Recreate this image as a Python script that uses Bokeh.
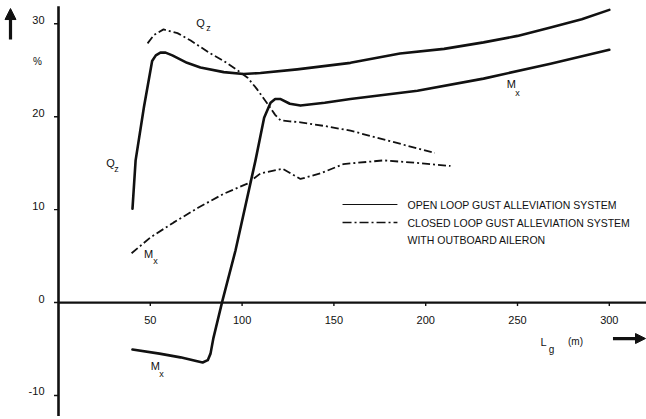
from bokeh.plotting import figure
from bokeh.models import ColumnDataSource, Arrow, NormalHead
from bokeh.core.properties import value
from bokeh.embed import file_html
from bokeh.resources import INLINE

# Gust scale length L_g (m) against response reduction (%)
open_qz_lg = [40.3, 42.0, 46.5, 51.0, 53.0, 55.5, 58.3, 62.0, 70.0, 77.3, 90.0, 100.8,
              110.0, 130.0, 159.0, 186.0, 210.0, 231.5, 250.0, 268.0, 285.0, 300.0]
open_qz = [10.1, 15.3, 21.0, 26.0, 26.6, 26.9, 26.9, 26.6, 25.8, 25.3, 24.8, 24.6,
           24.7, 25.1, 25.8, 26.8, 27.3, 28.0, 28.7, 29.6, 30.5, 31.5]

open_mx_lg = [40.3, 55.0, 66.4, 75.0, 78.5, 81.3, 82.8, 84.4, 89.3, 96.4, 107.3, 112.0,
              115.5, 118.0, 121.0, 126.0, 131.8, 145.0, 159.0, 195.5, 231.5, 268.0, 300.0]
open_mx = [-5.06, -5.5, -5.9, -6.3, -6.45, -6.2, -5.5, -3.8, 0.2, 5.6, 15.3, 19.9,
           21.5, 21.9, 21.9, 21.4, 21.2, 21.5, 21.9, 22.8, 24.1, 25.7, 27.2]

closed_qz_lg = [48.5, 52.0, 57.2, 64.8, 72.0, 82.8, 90.0, 97.5, 103.0, 108.0, 113.8,
                118.0, 121.0, 126.0, 131.8, 145.0, 159.0, 180.0, 205.0]
closed_qz = [27.9, 28.8, 29.4, 29.0, 28.2, 26.8, 26.0, 25.0, 24.2, 23.0, 21.4,
             20.2, 19.6, 19.5, 19.4, 19.0, 18.5, 17.4, 16.1]

closed_mx_lg = [39.8, 50.0, 62.6, 76.0, 89.9, 102.9, 110.0, 122.0, 131.8, 142.7,
                155.2, 177.0, 197.2, 213.5]
closed_mx = [5.3, 7.0, 8.6, 10.2, 11.7, 12.8, 13.9, 14.4, 13.3, 13.9,
             14.9, 15.3, 15.0, 14.7]

x_ticks = [50, 100, 150, 200, 250, 300]
x_tick_labels = ["50", "100", "150", "200", "250", "300"]
y_ticks = [30, 20, 10, 0, -10]
y_tick_labels = ["30", "20", "10", "0", "-10"]

legend_labels = ["OPEN LOOP GUST ALLEVIATION SYSTEM",
                 "CLOSED LOOP GUST ALLEVIATION SYSTEM",
                 "WITH OUTBOARD AILERON"]

# ---- canvas and scales -------------------------------------------------
W, H = 646, 419
X_MIN, X_MAX = -31.59, 320.26
Y_MIN, Y_MAX = -12.59, 32.51
PX_X = W / (X_MAX - X_MIN)
PX_Y = H / (Y_MAX - Y_MIN)


def dx(px):
    return px / PX_X


def dy(px):
    return px / PX_Y


INK = "#111111"
FONT = value("Liberation Sans")

p = figure(width=W, height=H, x_range=(X_MIN, X_MAX), y_range=(Y_MIN, Y_MAX),
           x_axis_location=None, y_axis_location=None,
           toolbar_location=None, output_backend="svg", min_border=0)
p.xgrid.visible = False
p.ygrid.visible = False
p.outline_line_color = None
p.background_fill_color = "white"
p.border_fill_color = "white"

# ---- axes drawn through the origin --------------------------------------
Y_AXIS_TOP, Y_AXIS_BOTTOM = 31.9, -12.2
X_AXIS_END = 320.0
p.line([0, 0], [Y_AXIS_BOTTOM, Y_AXIS_TOP], line_color=INK, line_width=2.6)
p.line([0, X_AXIS_END], [0, 0], line_color=INK, line_width=2.2)

# tick marks
p.segment(x0=[-dx(4.5)] * len(y_ticks), y0=y_ticks, x1=[0] * len(y_ticks), y1=y_ticks,
          line_color=INK, line_width=1.4)
p.segment(x0=x_ticks, y0=[0] * len(x_ticks), x1=x_ticks, y1=[-dy(3.5)] * len(x_ticks),
          line_color=INK, line_width=1.4)

# tick labels
p.text(x=[-dx(14)] * len(y_ticks), y=[t + dy(4) for t in y_ticks], text=y_tick_labels,
       text_align="right", text_baseline="middle", text_font=FONT,
       text_font_size="11px", text_color=INK)
p.text(x=x_ticks, y=[-dy(17)] * len(x_ticks), text=x_tick_labels,
       text_align="center", text_baseline="middle", text_font=FONT,
       text_font_size="11px", text_color=INK)

# direction arrows and units
p.add_layout(Arrow(end=NormalHead(size=11, fill_color=INK, line_color=INK),
                   x_start=-dx(48), y_start=dy(263), x_end=-dx(48), y_end=dy(294),
                   line_color=INK, line_width=3.2))
p.add_layout(Arrow(end=NormalHead(size=10, fill_color=INK, line_color=INK),
                   x_start=302.0, y_start=-dy(36), x_end=X_MAX - dx(1), y_end=-dy(36),
                   line_color=INK, line_width=3.2))
p.text(x=[-dx(21)], y=[dy(241)], text=["%"], text_align="center",
       text_baseline="middle", text_font=FONT, text_font_size="10px", text_color=INK)

# axis title L_g (m)
p.text(x=[264.2], y=[-dy(39)], text=["L"], text_align="center", text_baseline="middle",
       text_font=FONT, text_font_size="11px", text_color=INK)
p.text(x=[268.6], y=[-dy(47)], text=["g"], text_align="center", text_baseline="middle",
       text_font=FONT, text_font_size="10px", text_color=INK)
p.text(x=[281.6], y=[-dy(39)], text=["(m)"], text_align="center", text_baseline="middle",
       text_font=FONT, text_font_size="10px", text_color=INK)

# ---- response curves ------------------------------------------------------
DASHDOT = "8 3 2 3"
p.line(open_qz_lg, open_qz, line_color=INK, line_width=2.6, line_join="round", line_cap="round")
p.line(open_mx_lg, open_mx, line_color=INK, line_width=2.6, line_join="round", line_cap="round")
p.line(closed_qz_lg, closed_qz, line_color=INK, line_width=1.8, line_dash=DASHDOT, line_join="round")
p.line(closed_mx_lg, closed_mx, line_color=INK, line_width=1.8, line_dash=DASHDOT, line_join="round")

# curve names with subscripts
names = ColumnDataSource(dict(
    x=[77.3, 28.3, 49.0, 52.8, 246.7],
    y=[30.1, 15.0, 5.27, -6.78, 23.5],
    t=["Q", "Q", "M", "M", "M"],
))
subs = ColumnDataSource(dict(
    x=[81.7, 31.6, 52.8, 56.1, 250.0],
    y=[29.5, 14.4, 4.5, -7.64, 22.6],
    t=["z", "z", "x", "x", "x"],
))
p.text(x="x", y="y", text="t", source=names, text_align="center", text_baseline="middle",
       text_font=FONT, text_font_size="11px", text_color=INK)
p.text(x="x", y="y", text="t", source=subs, text_align="center", text_baseline="middle",
       text_font=FONT, text_font_size="9px", text_color=INK)

# ---- legend ---------------------------------------------------------------
LEG_X0, LEG_X1, LEG_TX = 154.7, 184.6, 190.1
leg_y = [10.55, 8.61, 6.78]
p.line([LEG_X0, LEG_X1], [leg_y[0]] * 2, line_color=INK, line_width=1.2)
p.line([LEG_X0, LEG_X1], [leg_y[1]] * 2, line_color=INK, line_width=1.5, line_dash="9 3 2 3")
p.text(x=[LEG_TX] * 3, y=leg_y, text=legend_labels, text_align="left",
       text_baseline="middle", text_font=FONT, text_font_size="10.5px", text_color=INK)

open("out.html", "w").write(file_html(p, INLINE))
